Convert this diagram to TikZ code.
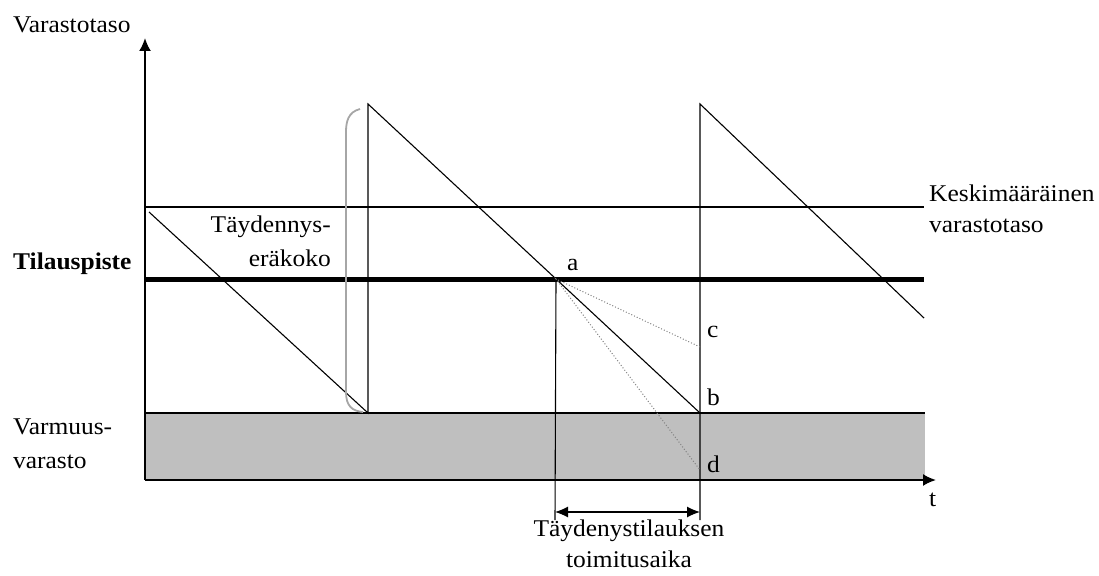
\documentclass[tikz,border=0pt]{standalone}
\usepackage{fontspec}
\setmainfont{Liberation Serif}[FakeStretch=1.06]
\usetikzlibrary{arrows.meta}
\begin{document}
\begin{tikzpicture}[x=1pt,y=-1pt,
  lbl/.style={inner sep=0pt, font=\fontsize{24}{31}\selectfont},
  thinline/.style={line width=1.1pt},
  axis/.style={line width=2pt, -{Latex[length=13pt,width=12pt]}}]
\useasboundingbox (0,0) rectangle (1099,575);

% points of the picture
\coordinate (o) at (145,480);
\coordinate (ytip) at (145,38);
\coordinate (xtip) at (936,480);
\coordinate (ss0) at (146,413);
\coordinate (ss1) at (925,413);
\coordinate (avg0) at (145,207);
\coordinate (avg1) at (924,207);
\coordinate (rp0) at (145,279);
\coordinate (rp1) at (924,279);
\coordinate (s0) at (149,212);
\coordinate (low1) at (368,413);
\coordinate (top1) at (368,104);
\coordinate (b) at (700,413);
\coordinate (top2) at (700,104);
\coordinate (s3) at (924,318);
\coordinate (a) at (556,279);
\coordinate (c) at (700,347);
\coordinate (d) at (700,470);
\coordinate (lt0) at (555,520);
\coordinate (lt1) at (700,520);
\coordinate (dim0) at (555,512);
\coordinate (dim1) at (700,512);

% safety stock
\fill[gray!50] (ss0) rectangle (925,479);
\draw[thinline] (ss0) -- (ss1);

% levels
\draw[thinline] (avg0) -- (avg1);
\draw[line width=5pt] (rp0) -- (rp1);

% inventory curve
\draw[thinline] (s0) -- (low1) -- (top1) -- (b);
\draw[thinline] (lt1) -- (top2) -- (s3);
\draw[thinline] (a) -- (lt0);
\draw[gray, dotted, line width=1pt] (c) -- (a) -- (d);

% order quantity bracket
\draw[gray!70, line width=1.8pt] (360,109) .. controls (348,112) and (346,122) .. (346,132)
  -- (346,392) .. controls (346,406) and (352,411) .. (363,412);

% lead time
\draw[thinline, {Latex[length=13pt,width=11pt]}-{Latex[length=13pt,width=11pt]}] (dim0) -- (dim1);

% axes
\draw[axis] (o) -- (ytip);
\draw[axis] (o) -- (xtip);

% labels
\node[lbl, anchor=base west] (ylabel) at (13,33) {Varastotaso};
\node[lbl, anchor=base west] (tlabel) at (929,506) {t};
\node[lbl, anchor=base west, font=\fontsize{24}{31}\selectfont\bfseries] (rplabel) at (13,269) {Tilauspiste};
\node[lbl, anchor=north west, align=left] (sslabel) at (13,419) {Varmuus-\\[3pt]varasto};
\node[lbl, anchor=north east, align=right] (qlabel) at (331,216) {Täydennys-\\[3pt]eräkoko};
\node[lbl, anchor=north west, align=left] (avglabel) at (929,185) {Keskimääräinen\\varastotaso};
\node[lbl, anchor=north, align=center] (ltlabel) at (629,520) {Täydenystilauksen\\toimitusaika};
\node[lbl, anchor=base west] (alabel) at (567,270) {a};
\node[lbl, anchor=base west] (clabel) at (707,337) {c};
\node[lbl, anchor=base west] (blabel) at (707,405) {b};
\node[lbl, anchor=base west] (dlabel) at (707,472) {d};
\end{tikzpicture}
\end{document}
